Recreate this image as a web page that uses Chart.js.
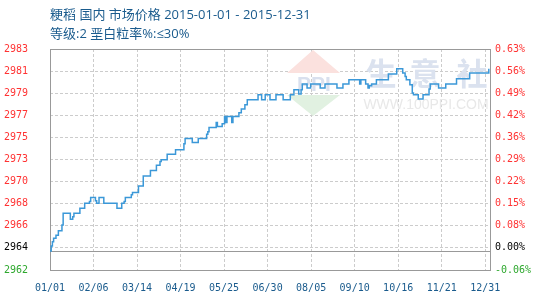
<!DOCTYPE html>
<html>
<head>
<meta charset="utf-8">
<script src="https://cdn.jsdelivr.net/npm/chart.js@4/dist/chart.umd.min.js"></script>
<style>
  html, body { margin: 0; padding: 0; background: #fff; }
</style>
</head>
<body>
<canvas id="chart" width="540" height="300"></canvas>
<script>
// --- data (day = days since 2015-01-01, price = 元/吨) ---
const days = [0, 1, 2, 3, 5, 7, 10, 11, 17, 19, 20, 25, 29, 33, 34, 38, 39, 41, 45, 56,
  60, 62, 63, 68, 69, 74, 78, 84, 89, 92, 93, 98, 105, 112, 113, 119, 124, 131, 132, 133,
  139, 140, 144, 146, 147, 148, 152, 153, 158, 160, 163, 165, 174, 177, 180, 184, 189, 195, 201, 204,
  208, 210, 211, 215, 218, 226, 230, 240, 245, 250, 259, 260, 264, 266, 267, 269, 273, 283, 290, 295,
  297, 298, 301, 303, 304, 308, 312, 317, 318, 325, 331, 340, 351, 367];
const prices = [2963.81, 2964.28, 2964.69, 2965.02, 2965.30, 2965.74, 2966.28, 2967.40, 2966.82, 2967.07,
  2967.40, 2967.87, 2968.35, 2968.50, 2968.88, 2968.59, 2968.35, 2968.88, 2968.35, 2967.87,
  2968.35, 2968.50, 2968.88, 2969.14, 2969.36, 2969.99, 2970.94, 2971.45, 2971.96, 2972.30,
  2972.47, 2973.01, 2973.42, 2973.99, 2974.49, 2974.11, 2974.49, 2974.91, 2975.13, 2975.54,
  2976.02, 2975.63, 2975.89, 2976.59, 2976.02, 2976.59, 2976.02, 2976.59, 2976.94, 2977.29,
  2977.70, 2978.18, 2978.65, 2978.18, 2978.65, 2978.18, 2978.65, 2978.18, 2978.65, 2979.13,
  2978.72, 2979.13, 2979.67, 2979.29, 2979.67, 2979.29, 2979.67, 2979.29, 2979.67, 2980.08,
  2979.67, 2980.08, 2979.67, 2979.29, 2979.51, 2979.67, 2980.08, 2980.62, 2981.12, 2980.72,
  2980.39, 2980.08, 2979.60, 2978.81, 2978.65, 2978.24, 2978.65, 2979.19, 2979.67, 2979.29,
  2979.67, 2980.17, 2980.72, 2981.12];

const xLabels = ['01/01', '02/06', '03/14', '04/19', '05/25', '06/30', '08/05', '09/10', '10/16', '11/21', '12/31'];
const leftLabels = ['2962', '2964', '2966', '2968', '2970', '2973', '2975', '2977', '2979', '2981', '2983'];
const rightLabels = ['-0.06%', '0.00%', '0.08%', '0.15%', '0.22%', '0.29%', '0.36%', '0.42%', '0.49%', '0.56%', '0.63%'];

const Y_MIN = 2962, Y_MAX = 2983;
const YEAR_END = 364, X_MAX = 368;

const TITLE = '粳稻 国内 市场价格 2015-01-01 - 2015-12-31';
const SUBTITLE = '等级:2 垩白粒率%:≤30%';

// colours
const BLUE_LINE = '#3b98d8';
const TEXT_BLUE = '#1a5b8d';
const GRID = '#cccccc';
const FRAME = '#999999';

const tickFont = { family: 'DejaVu Sans Mono', size: 10 };
// lowest label green, base label black, the rest red
const tickColor = c => c.index === 0 ? '#2ea82e' : (c.index === 1 ? '#000000' : '#ff3333');
const evenTicks = (labels, min, max) => labels.map((_, i) => ({ value: min + i * (max - min) / (labels.length - 1) }));

// watermark, base line, frame and titles
const decor = {
  id: 'decor',
  beforeDatasetsDraw(chart) {
    const { ctx, chartArea: a, scales: { y } } = chart;
    ctx.save();
    // logo diamond
    ctx.fillStyle = '#fbe1de';
    ctx.beginPath(); ctx.moveTo(313, 50); ctx.lineTo(340, 73); ctx.lineTo(287, 73); ctx.closePath(); ctx.fill();
    ctx.fillStyle = '#e1f1e1';
    ctx.beginPath(); ctx.moveTo(287, 95); ctx.lineTo(340, 95); ctx.lineTo(313, 116); ctx.closePath(); ctx.fill();
    ctx.fillStyle = '#d9e0ee';
    ctx.font = 'bold 21px "Liberation Sans"';
    ctx.textAlign = 'center'; ctx.textBaseline = 'middle';
    ctx.fillText('PPI', 314, 85);
    ctx.font = 'bold 31px "Noto Sans CJK SC"';
    ctx.fillStyle = '#dbe2ef';
    ctx.fillText('生', 381, 73);
    ctx.fillText('意', 425, 73);
    ctx.fillText('社', 472, 73);
    ctx.font = '14px "Liberation Sans"';
    ctx.fillStyle = '#e8e8e8';
    ctx.fillText('WWW.100PPI.COM', 426, 105);

    // base line at the first price (0.00%)
    ctx.strokeStyle = FRAME; ctx.lineWidth = 1;
    const by = Math.round(y.getPixelForValue(prices[0])) + 0.5;
    ctx.beginPath(); ctx.moveTo(a.left, by); ctx.lineTo(a.right, by); ctx.stroke();
    // frame
    ctx.strokeRect(a.left + 0.5, a.top + 0.5, a.right - a.left, a.bottom - a.top);
    ctx.restore();
  },
  afterDraw(chart) {
    const { ctx, chartArea: a } = chart;
    ctx.save();
    ctx.fillStyle = TEXT_BLUE;
    ctx.font = '13px "Open Sans", "Noto Sans CJK SC"';
    ctx.textAlign = 'left'; ctx.textBaseline = 'middle';
    ctx.fillText(TITLE, a.left, 15);
    ctx.fillText(SUBTITLE, a.left, 34);
    ctx.restore();
  }
};

new Chart(document.getElementById('chart'), {
  type: 'line',
  data: {
    datasets: [{
      data: days.map((d, i) => ({ x: d, y: prices[i] })),
      borderColor: BLUE_LINE,
      borderWidth: 1.5,
      pointRadius: 0,
      stepped: true,
      fill: false
    }]
  },
  options: {
    responsive: false,
    animation: false,
    layout: { padding: { top: 49, left: 0, right: 0, bottom: 0 } },
    plugins: { legend: { display: false }, tooltip: { enabled: false } },
    scales: {
      x: {
        type: 'linear', min: 0, max: X_MAX,
        afterBuildTicks: s => { s.ticks = evenTicks(xLabels, 0, YEAR_END); },
        afterFit: s => { s.height = 30; },
        grid: { color: GRID, drawTicks: false },
        border: { display: false, dash: [3, 2] },
        ticks: { padding: 12, color: TEXT_BLUE, font: tickFont, maxRotation: 0, autoSkip: false,
          callback: (v, i) => xLabels[i] }
      },
      y: {
        type: 'linear', position: 'left', min: Y_MIN, max: Y_MAX,
        afterBuildTicks: s => { s.ticks = evenTicks(leftLabels, Y_MIN, Y_MAX); },
        afterFit: s => { s.width = 50; },
        grid: { color: GRID, drawTicks: false },
        border: { display: false, dash: [3, 2] },
        ticks: { padding: 22, color: tickColor, font: tickFont, autoSkip: false,
          callback: (v, i) => leftLabels[i] }
      },
      y1: {
        type: 'linear', position: 'right', min: Y_MIN, max: Y_MAX,
        afterBuildTicks: s => { s.ticks = evenTicks(rightLabels, Y_MIN, Y_MAX); },
        afterFit: s => { s.width = 50; },
        grid: { drawOnChartArea: false, drawTicks: false },
        border: { display: false },
        ticks: { padding: 5, color: tickColor, font: tickFont, autoSkip: false,
          callback: (v, i) => rightLabels[i] }
      }
    }
  },
  plugins: [decor]
});
</script>
</body>
</html>
